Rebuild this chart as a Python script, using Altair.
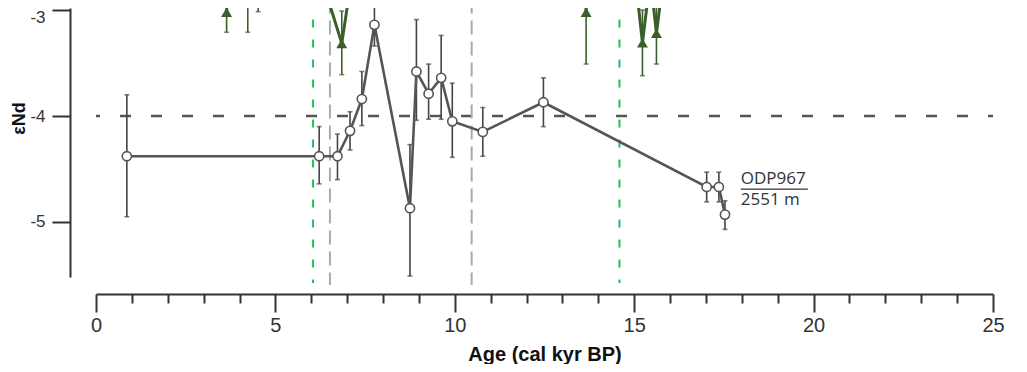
import altair as alt
import pandas as pd

# ---------------- data ----------------
# ODP967 (grey, open circles)
odp_age = [0.86, 6.22, 6.73, 7.08, 7.41, 7.76, 8.75, 8.93, 9.27, 9.62, 9.93, 10.78, 12.47, 17.02, 17.36, 17.53]
odp_end = [-4.38, -4.38, -4.38, -4.14, -3.84, -3.14, -4.87, -3.58, -3.79, -3.64, -4.05, -4.15, -3.87, -4.67, -4.67, -4.93]
odp_hi = [-3.80, -4.10, -4.17, -3.96, -3.58, -2.94, -4.27, -3.09, -3.51, -3.24, -3.69, -3.92, -3.64, -4.53, -4.53, -4.80]
odp_lo = [-4.95, -4.64, -4.60, -4.32, -4.09, -3.34, -5.51, -4.04, -4.03, -4.03, -4.39, -4.38, -4.10, -4.81, -4.81, -5.07]

# second record (dark green triangles), mostly above the visible window
grn_age = [3.64, 3.70, 4.23, 4.52, 6.15, 6.85, 7.19, 9.52, 13.60, 13.66, 13.72, 15.00, 15.23, 15.45, 15.62, 15.85]
grn_end = [-3.02, -2.40, -2.86, -2.70, -2.55, -3.315, -2.55, -2.50, -2.35, -3.02, -2.35, -2.60, -3.31, -2.70, -3.22, -2.60]
grn_hi = [-2.83, -2.20, -2.51, -2.38, -2.30, -3.01, -2.30, -2.05, -2.10, -2.53, -2.10, -2.35, -3.00, -2.45, -2.93, -2.35]
grn_lo = [-3.21, -2.60, -3.21, -3.016, -2.80, -3.61, -2.80, -2.97, -2.60, -3.51, -2.60, -2.85, -3.62, -2.95, -3.51, -2.85]

# reference lines
hline_y = [-4.0]
hline_x = [0.0]
hline_x2 = [25.0]
green_vx = [6.05, 14.59]
grey_vx = [6.52, 10.47]
vline_top = -2.90
green_vbottom = -5.575
grey_vbottom = -5.594

# annotation
label_x = [17.97, 17.97]
label_y = [-4.594, -4.792]
label_txt = ["ODP967", "2551 m"]
underline_x = [17.97]
underline_x2 = [19.84]
underline_y = [-4.689]

x_ticks = list(range(0, 26))
y_ticks = [-3, -4, -5]

Y_MIN, Y_MAX = -5.519, -2.981

# ---------------- chart ----------------
x_scale = alt.Scale(domain=[0, 25], nice=False, zero=False)
y_scale = alt.Scale(domain=[Y_MIN, Y_MAX], nice=False, zero=False)

x_axis = alt.Axis(
    values=x_ticks,
    tickSize={"condition": {"test": "datum.value % 5 === 0", "value": 18}, "value": 9},
    labelExpr="datum.value % 5 === 0 ? datum.label : ''",
    offset=17, grid=False,
    domainColor="#333", domainWidth=2, tickColor="#333", tickWidth=2,
    labelFont="Liberation Sans", labelFontSize=20, labelColor="#333",
    labelPadding=3, labelFlush=False, labelOverlap=False,
    title="Age (cal kyr BP)", titleFont="Liberation Sans", titleFontSize=20,
    titleFontWeight="bold", titleColor="#111",
    titleY=60, titleBaseline="middle",
)
y_axis = alt.Axis(
    values=y_ticks,
    labelExpr="(datum.value < 0 ? '-' : '') + abs(datum.value)",
    labelOffset={"condition": {"test": "datum.value === -3", "value": 7}, "value": 0},
    offset=26, grid=False, tickSize=18,
    domainColor="#333", domainWidth=2, tickColor="#333", tickWidth=2,
    labelFont="Liberation Sans", labelFontSize=17, labelColor="#333",
    labelPadding=7,
    title="εNd", titleFont="Liberation Sans", titleFontSize=18,
    titleFontWeight="bold", titleColor="#111", titleAngle=270,
    titleX=-51, titleY=110, titleAlign="center", titleBaseline="middle",
)


def X(field):
    return alt.X(field, type="quantitative", scale=x_scale, axis=x_axis)


def Y(field):
    return alt.Y(field, type="quantitative", scale=y_scale, axis=y_axis)


odp = pd.DataFrame({"x": odp_age, "y": odp_end, "hi": odp_hi, "lo": odp_lo})
grn = pd.DataFrame({"x": grn_age, "y": grn_end, "hi": grn_hi, "lo": grn_lo})

hline = alt.Chart(pd.DataFrame({"x": hline_x, "x2": hline_x2, "y": hline_y})).mark_rule(
    color="#555", strokeWidth=2.5, strokeDash=[11, 20], strokeDashOffset=7
).encode(x=X("x"), x2="x2", y=Y("y"))

gv = alt.Chart(pd.DataFrame({"x": green_vx, "y": [vline_top] * 2, "y2": [green_vbottom] * 2})).mark_rule(
    color="#1fbf5c", strokeWidth=2, strokeDash=[8, 12], clip=False
).encode(x=X("x"), y=Y("y"), y2="y2")

grv = alt.Chart(pd.DataFrame({"x": grey_vx, "y": [vline_top] * 2, "y2": [grey_vbottom] * 2})).mark_rule(
    color="#aaaaaa", strokeWidth=2, strokeDash=[14, 7], clip=False
).encode(x=X("x"), y=Y("y"), y2="y2")

GREY = "#555555"
GREEN = "#3a5f2a"

o_bar = alt.Chart(odp).mark_rule(color="#444", strokeWidth=1.6).encode(x=X("x"), y=Y("lo"), y2="hi")
o_cap1 = alt.Chart(odp).mark_tick(color="#444", orient="horizontal", size=5, thickness=1.6).encode(x=X("x"), y=Y("lo"))
o_cap2 = alt.Chart(odp).mark_tick(color="#444", orient="horizontal", size=5, thickness=1.6).encode(x=X("x"), y=Y("hi"))
o_line = alt.Chart(odp).mark_line(color=GREY, strokeWidth=2.6).encode(x=X("x"), y=Y("y"))
o_pts = alt.Chart(odp).mark_point(
    shape="circle", filled=True, fill="white", stroke=GREY, strokeWidth=1.6, size=85, opacity=1
).encode(x=X("x"), y=Y("y"))

g_bar = alt.Chart(grn).mark_rule(color=GREEN, strokeWidth=1.6).encode(x=X("x"), y=Y("lo"), y2="hi")
g_cap1 = alt.Chart(grn).mark_tick(color=GREEN, orient="horizontal", size=5, thickness=1.6).encode(x=X("x"), y=Y("lo"))
g_cap2 = alt.Chart(grn).mark_tick(color=GREEN, orient="horizontal", size=5, thickness=1.6).encode(x=X("x"), y=Y("hi"))
g_line = alt.Chart(grn).mark_line(color=GREEN, strokeWidth=3).encode(x=X("x"), y=Y("y"))
g_pts = alt.Chart(grn).mark_point(
    shape="triangle-up", filled=True, color=GREEN, size=120, opacity=1
).encode(x=X("x"), y=Y("y"))

labels = alt.Chart(pd.DataFrame({"x": label_x, "y": label_y, "t": label_txt})).mark_text(
    align="left", baseline="middle", font="Open Sans", fontSize=17, color="#333"
).encode(x=X("x"), y=Y("y"), text="t:N")

underline = alt.Chart(pd.DataFrame({"x": underline_x, "x2": underline_x2, "y": underline_y})).mark_rule(
    color="#333", strokeWidth=1.2
).encode(x=X("x"), x2="x2", y=Y("y"))

chart = alt.layer(
    hline, gv, grv,
    o_bar, o_cap1, o_cap2, o_line, o_pts,
    g_bar, g_cap1, g_cap2, g_line, g_pts,
    labels, underline,
).properties(
    width=897, height=269,
    autosize=alt.AutoSizeParams(type="none"),
    padding={"left": 88, "top": 0, "right": 26, "bottom": 87},
    background="white",
).configure_view(stroke=None)

chart.save("out.html", embed_options={"renderer": "svg", "actions": False})
